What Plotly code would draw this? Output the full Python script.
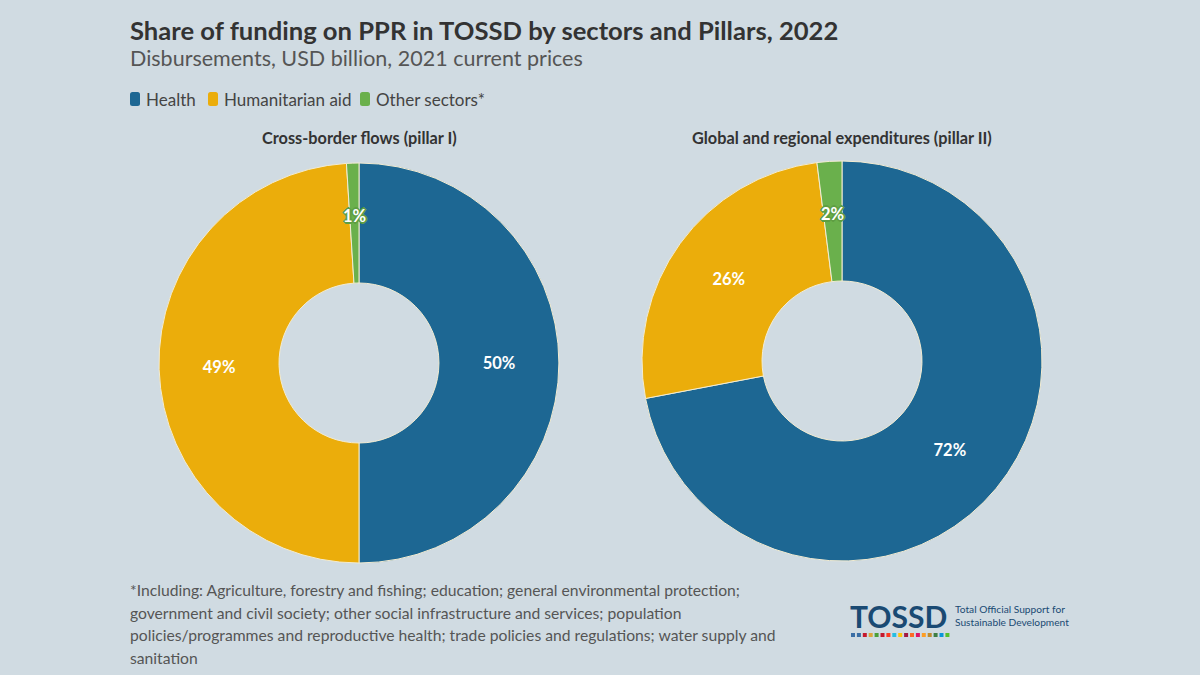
import math
import plotly.graph_objects as go

sectors = ["Health", "Humanitarian aid", "Other sectors*"]
pillar1_share = [50, 49, 1]
pillar2_share = [72, 26, 2]
colors = ["#1d6793", "#ebad0b", "#6ab04c"]
pillar_titles = ["Cross-border flows (pillar I)", "Global and regional expenditures (pillar II)"]
footnote_lines = [
    "*Including: Agriculture, forestry and fishing; education; general environmental protection;",
    "government and civil society; other social infrastructure and services; population",
    "policies/programmes and reproductive health; trade policies and regulations; water supply and",
    "sanitation",
]

W, H = 1200, 675
BG = "#d0dbe2"
FONT = "Lato"
HOLE = 0.4
GREEN_SHADOW = ("1px 1px 0 #5e9e42, -1px -1px 0 #5e9e42, 1px -1px 0 #5e9e42, -1px 1px 0 #5e9e42, "
                "2px 0 0 #5e9e42, -2px 0 0 #5e9e42, 0 2px 0 #5e9e42, 0 -2px 0 #5e9e42")

domains = [
    dict(x=[159 / W, 559 / W], y=[1 - 563 / H, 1 - 163 / H]),
    dict(x=[642 / W, 1042 / W], y=[1 - 561 / H, 1 - 161 / H]),
]

fig = go.Figure()
annotations = []

for k, (vals, dom, ttl) in enumerate(zip([pillar1_share, pillar2_share], domains, pillar_titles)):
    fig.add_trace(go.Pie(
        values=vals, labels=sectors, name=ttl, domain=dom,
        hole=HOLE, sort=False, direction="clockwise", rotation=0,
        marker=dict(colors=colors, line=dict(color="#f3ecd2", width=1)),
        texttemplate="%{percent:.0%}",
        textposition=["inside", "inside", "none"],
        insidetextorientation="horizontal",
        textfont=dict(family=FONT, size=16.5, color="white", weight="bold"),
        hoverinfo="label+percent",
        showlegend=False,
    ))
    total = sum(vals)
    mid = (sum(vals[:2]) + vals[2] / 2) / total
    theta = 2 * math.pi * mid
    cx = (dom["x"][0] + dom["x"][1]) / 2 * W
    cy = (dom["y"][0] + dom["y"][1]) / 2 * H
    R = (dom["x"][1] - dom["x"][0]) * W / 2
    r = R * (1 + HOLE) / 2 * 1.05
    lx = cx + r * math.sin(theta)
    ly = cy + r * math.cos(theta)
    annotations.append(dict(
        text=f"<b>{round(vals[2] / total * 100)}%</b>", x=lx / W, y=ly / H,
        xanchor="center", yanchor="middle", showarrow=False,
        font=dict(family=FONT, size=16.5, color="white", shadow=GREEN_SHADOW)))
    annotations.append(dict(
        text=f"<b>{ttl}</b>", x=cx / W, y=1 - 137 / H,
        xanchor="center", yanchor="middle", showarrow=False,
        font=dict(family=FONT, size=16.3, color="#333333")))

annotations += [
    dict(text="<b>Share of funding on PPR in TOSSD by sectors and Pillars, 2022</b>",
         x=128 / W, y=1 - 30 / H, xanchor="left", yanchor="middle", showarrow=False,
         font=dict(family=FONT, size=25.6, color="#333333")),
    dict(text="Disbursements, USD billion, 2021 current prices",
         x=128 / W, y=1 - 58 / H, xanchor="left", yanchor="middle", showarrow=False,
         font=dict(family=FONT, size=21.5, color="#555555")),
]


def rounded_rect(x0, y0, x1, y1, rr):
    # pixel coords (y down) -> paper path with rounded corners
    def px(x):
        return x / W

    def py(y):
        return 1 - y / H
    return (f"M {px(x0 + rr)},{py(y0)} L {px(x1 - rr)},{py(y0)} Q {px(x1)},{py(y0)} {px(x1)},{py(y0 + rr)} "
            f"L {px(x1)},{py(y1 - rr)} Q {px(x1)},{py(y1)} {px(x1 - rr)},{py(y1)} "
            f"L {px(x0 + rr)},{py(y1)} Q {px(x0)},{py(y1)} {px(x0)},{py(y1 - rr)} "
            f"L {px(x0)},{py(y0 + rr)} Q {px(x0)},{py(y0)} {px(x0 + rr)},{py(y0)} Z")


legend_x = [130, 208, 360]
shapes = []
for name, c, x0 in zip(sectors, colors, legend_x):
    shapes.append(dict(type="path", xref="paper", yref="paper",
                       path=rounded_rect(x0, 92, x0 + 10, 106, 2.5),
                       fillcolor=c, line=dict(width=0)))
    annotations.append(dict(text=name, x=(x0 + 14) / W, y=1 - 99 / H, xanchor="left",
                            yanchor="middle", showarrow=False,
                            font=dict(family=FONT, size=17, color="#444444")))

for i, line in enumerate(footnote_lines):
    annotations.append(dict(text=line, x=128 / W, y=1 - (590 + i * 22.7) / H, xanchor="left",
                            yanchor="middle", showarrow=False,
                            font=dict(family=FONT, size=15.7, color="#555555")))

annotations += [
    dict(text="<b>TOSSD</b>", x=848 / W, y=1 - 616 / H, xanchor="left", yanchor="middle",
         showarrow=False, font=dict(family=FONT, size=30, color="#1a4a73")),
    dict(text="Total Official Support for<br>Sustainable Development",
         x=953 / W, y=1 - 615 / H, xanchor="left", yanchor="middle", align="left", showarrow=False,
         font=dict(family=FONT, size=10.2, color="#1a4a73")),
]
sdg = ["#3a6ea5", "#3a6ea5", "#c5192d", "#dda63a", "#4c9f38", "#c5192d", "#ff3a21", "#26bde2",
       "#fcc30b", "#a21942", "#fd6925", "#dd1367", "#fd9d24", "#bf8b2e", "#3f7e44", "#0a97d9", "#56c02b"]
for i, c in enumerate(sdg):
    x0 = 851 + i * 5.9
    shapes.append(dict(type="rect", xref="paper", yref="paper",
                       x0=x0 / W, x1=(x0 + 4) / W, y0=1 - 637 / H, y1=1 - 633 / H,
                       fillcolor=c, line=dict(width=0)))

fig.update_layout(
    width=W, height=H,
    paper_bgcolor=BG, plot_bgcolor=BG,
    margin=dict(l=0, r=0, t=0, b=0),
    font=dict(family=FONT, color="#333333"),
    annotations=annotations,
    shapes=shapes,
    showlegend=False,
)

fig.write_html("out.html", config={"displayModeBar": False},
               post_script="document.body.style.margin='0';")
